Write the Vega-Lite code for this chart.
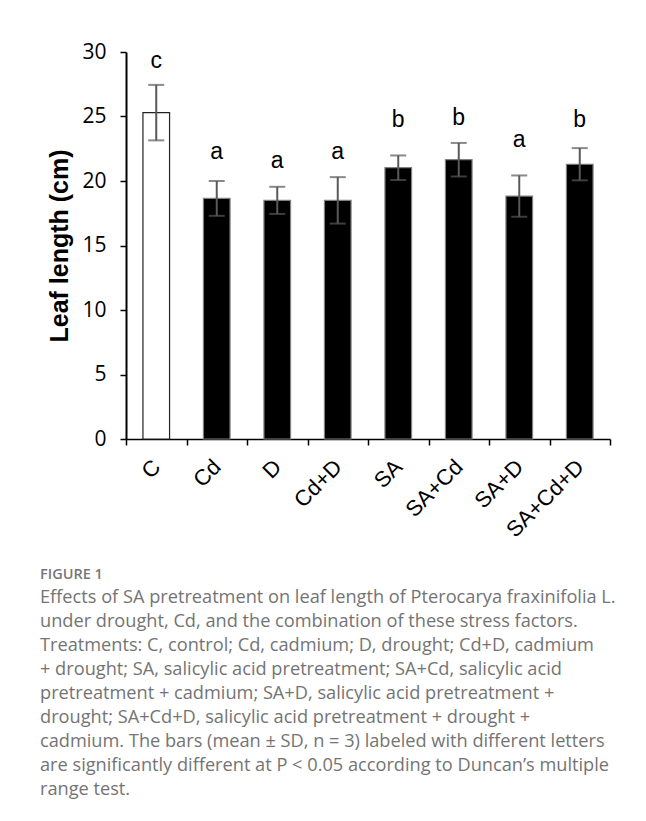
{
  "$schema": "https://vega.github.io/schema/vega-lite/v6.json",
  "autosize": "none",
  "width": 484,
  "height": 387,
  "padding": {"left": 126, "top": 52, "right": 36, "bottom": 382},
  "background": "white",
  "config": {"view": {"stroke": null}},
  "data": {"values": [
    {"treatment": "C", "mean": 25.3, "sd": 2.15, "letter": "c", "letter_y": 28.74, "group": "control"},
    {"treatment": "Cd", "mean": 18.65, "sd": 1.35, "letter": "a", "letter_y": 21.68, "group": "stress"},
    {"treatment": "D", "mean": 18.5, "sd": 1.05, "letter": "a", "letter_y": 20.98, "group": "stress"},
    {"treatment": "Cd+D", "mean": 18.5, "sd": 1.8, "letter": "a", "letter_y": 21.68, "group": "stress"},
    {"treatment": "SA", "mean": 21.03, "sd": 0.95, "letter": "b", "letter_y": 24.16, "group": "stress"},
    {"treatment": "SA+Cd", "mean": 21.65, "sd": 1.3, "letter": "b", "letter_y": 24.34, "group": "stress"},
    {"treatment": "SA+D", "mean": 18.83, "sd": 1.6, "letter": "a", "letter_y": 22.66, "group": "stress"},
    {"treatment": "SA+Cd+D", "mean": 21.3, "sd": 1.25, "letter": "b", "letter_y": 24.16, "group": "stress"}
  ]},
  "title": {
    "text": "FIGURE 1",
    "subtitle": [
      "Effects of SA pretreatment on leaf length of Pterocarya fraxinifolia L.",
      "under drought, Cd, and the combination of these stress factors.",
      "Treatments: C, control; Cd, cadmium; D, drought; Cd+D, cadmium",
      "+ drought; SA, salicylic acid pretreatment; SA+Cd, salicylic acid",
      "pretreatment + cadmium; SA+D, salicylic acid pretreatment +",
      "drought; SA+Cd+D, salicylic acid pretreatment + drought +",
      "cadmium. The bars (mean ± SD, n = 3) labeled with different letters",
      "are significantly different at P < 0.05 according to Duncan’s multiple",
      "range test."
    ],
    "orient": "bottom",
    "anchor": "start",
    "frame": "group",
    "dx": -86,
    "offset": 27,
    "font": "Open Sans",
    "fontSize": 14.5,
    "fontWeight": 600,
    "color": "#777777",
    "subtitleFont": "Open Sans",
    "subtitleFontSize": 18.2,
    "subtitleColor": "#747474",
    "subtitleLineHeight": 24,
    "subtitlePadding": 7
  },
  "encoding": {
    "x": {
      "field": "treatment",
      "type": "nominal",
      "sort": null,
      "scale": {"paddingInner": 0, "paddingOuter": 0},
      "axis": {
        "title": null,
        "labelAngle": -45,
        "labelAlign": "right",
        "labelBaseline": "middle",
        "labelFont": "Liberation Sans",
        "labelFontSize": 22,
        "labelColor": "black",
        "labelPadding": 18,
        "tickBand": "extent",
        "tickSize": 6,
        "tickColor": "black",
        "tickWidth": 1.5,
        "domainColor": "black",
        "domainWidth": 1.5
      }
    }
  },
  "layer": [
    {
      "mark": {"type": "bar", "width": {"band": 0.44}, "strokeWidth": 1.2},
      "encoding": {
        "y": {
          "field": "mean",
          "type": "quantitative",
          "title": "Leaf length (cm)",
          "scale": {"domain": [0, 30], "nice": false},
          "axis": {
            "title": "Leaf length (cm)",
            "titleFont": "Liberation Sans",
            "titleFontSize": 25,
            "titleFontWeight": "bold",
            "titleColor": "black",
            "titlePadding": 9,
            "values": [0, 5, 10, 15, 20, 25, 30],
            "grid": false,
            "labelFont": "Open Sans",
            "labelFontSize": 21,
            "labelColor": "black",
            "labelPadding": 14,
            "tickSize": 6,
            "tickColor": "black",
            "tickWidth": 1.5,
            "domainColor": "black",
            "domainWidth": 2
          }
        },
        "fill": {
          "field": "group",
          "type": "nominal",
          "scale": {"domain": ["control", "stress"], "range": ["white", "black"]},
          "legend": null
        },
        "stroke": {
          "field": "group",
          "type": "nominal",
          "scale": {"domain": ["control", "stress"], "range": ["#222222", "#808080"]},
          "legend": null
        }
      }
    },
    {
      "mark": {
        "type": "errorbar",
        "ticks": {"size": 16, "thickness": 2, "color": "#595959"},
        "rule": {"strokeWidth": 2, "color": "#595959"}
      },
      "encoding": {
        "y": {"field": "mean", "type": "quantitative", "title": "Leaf length (cm)"},
        "yError": {"field": "sd"}
      }
    },
    {
      "mark": {"type": "text", "font": "Liberation Sans", "fontSize": 23, "baseline": "alphabetic", "color": "black"},
      "encoding": {
        "y": {"field": "letter_y", "type": "quantitative", "title": "Leaf length (cm)"},
        "text": {"field": "letter"}
      }
    }
  ]
}
